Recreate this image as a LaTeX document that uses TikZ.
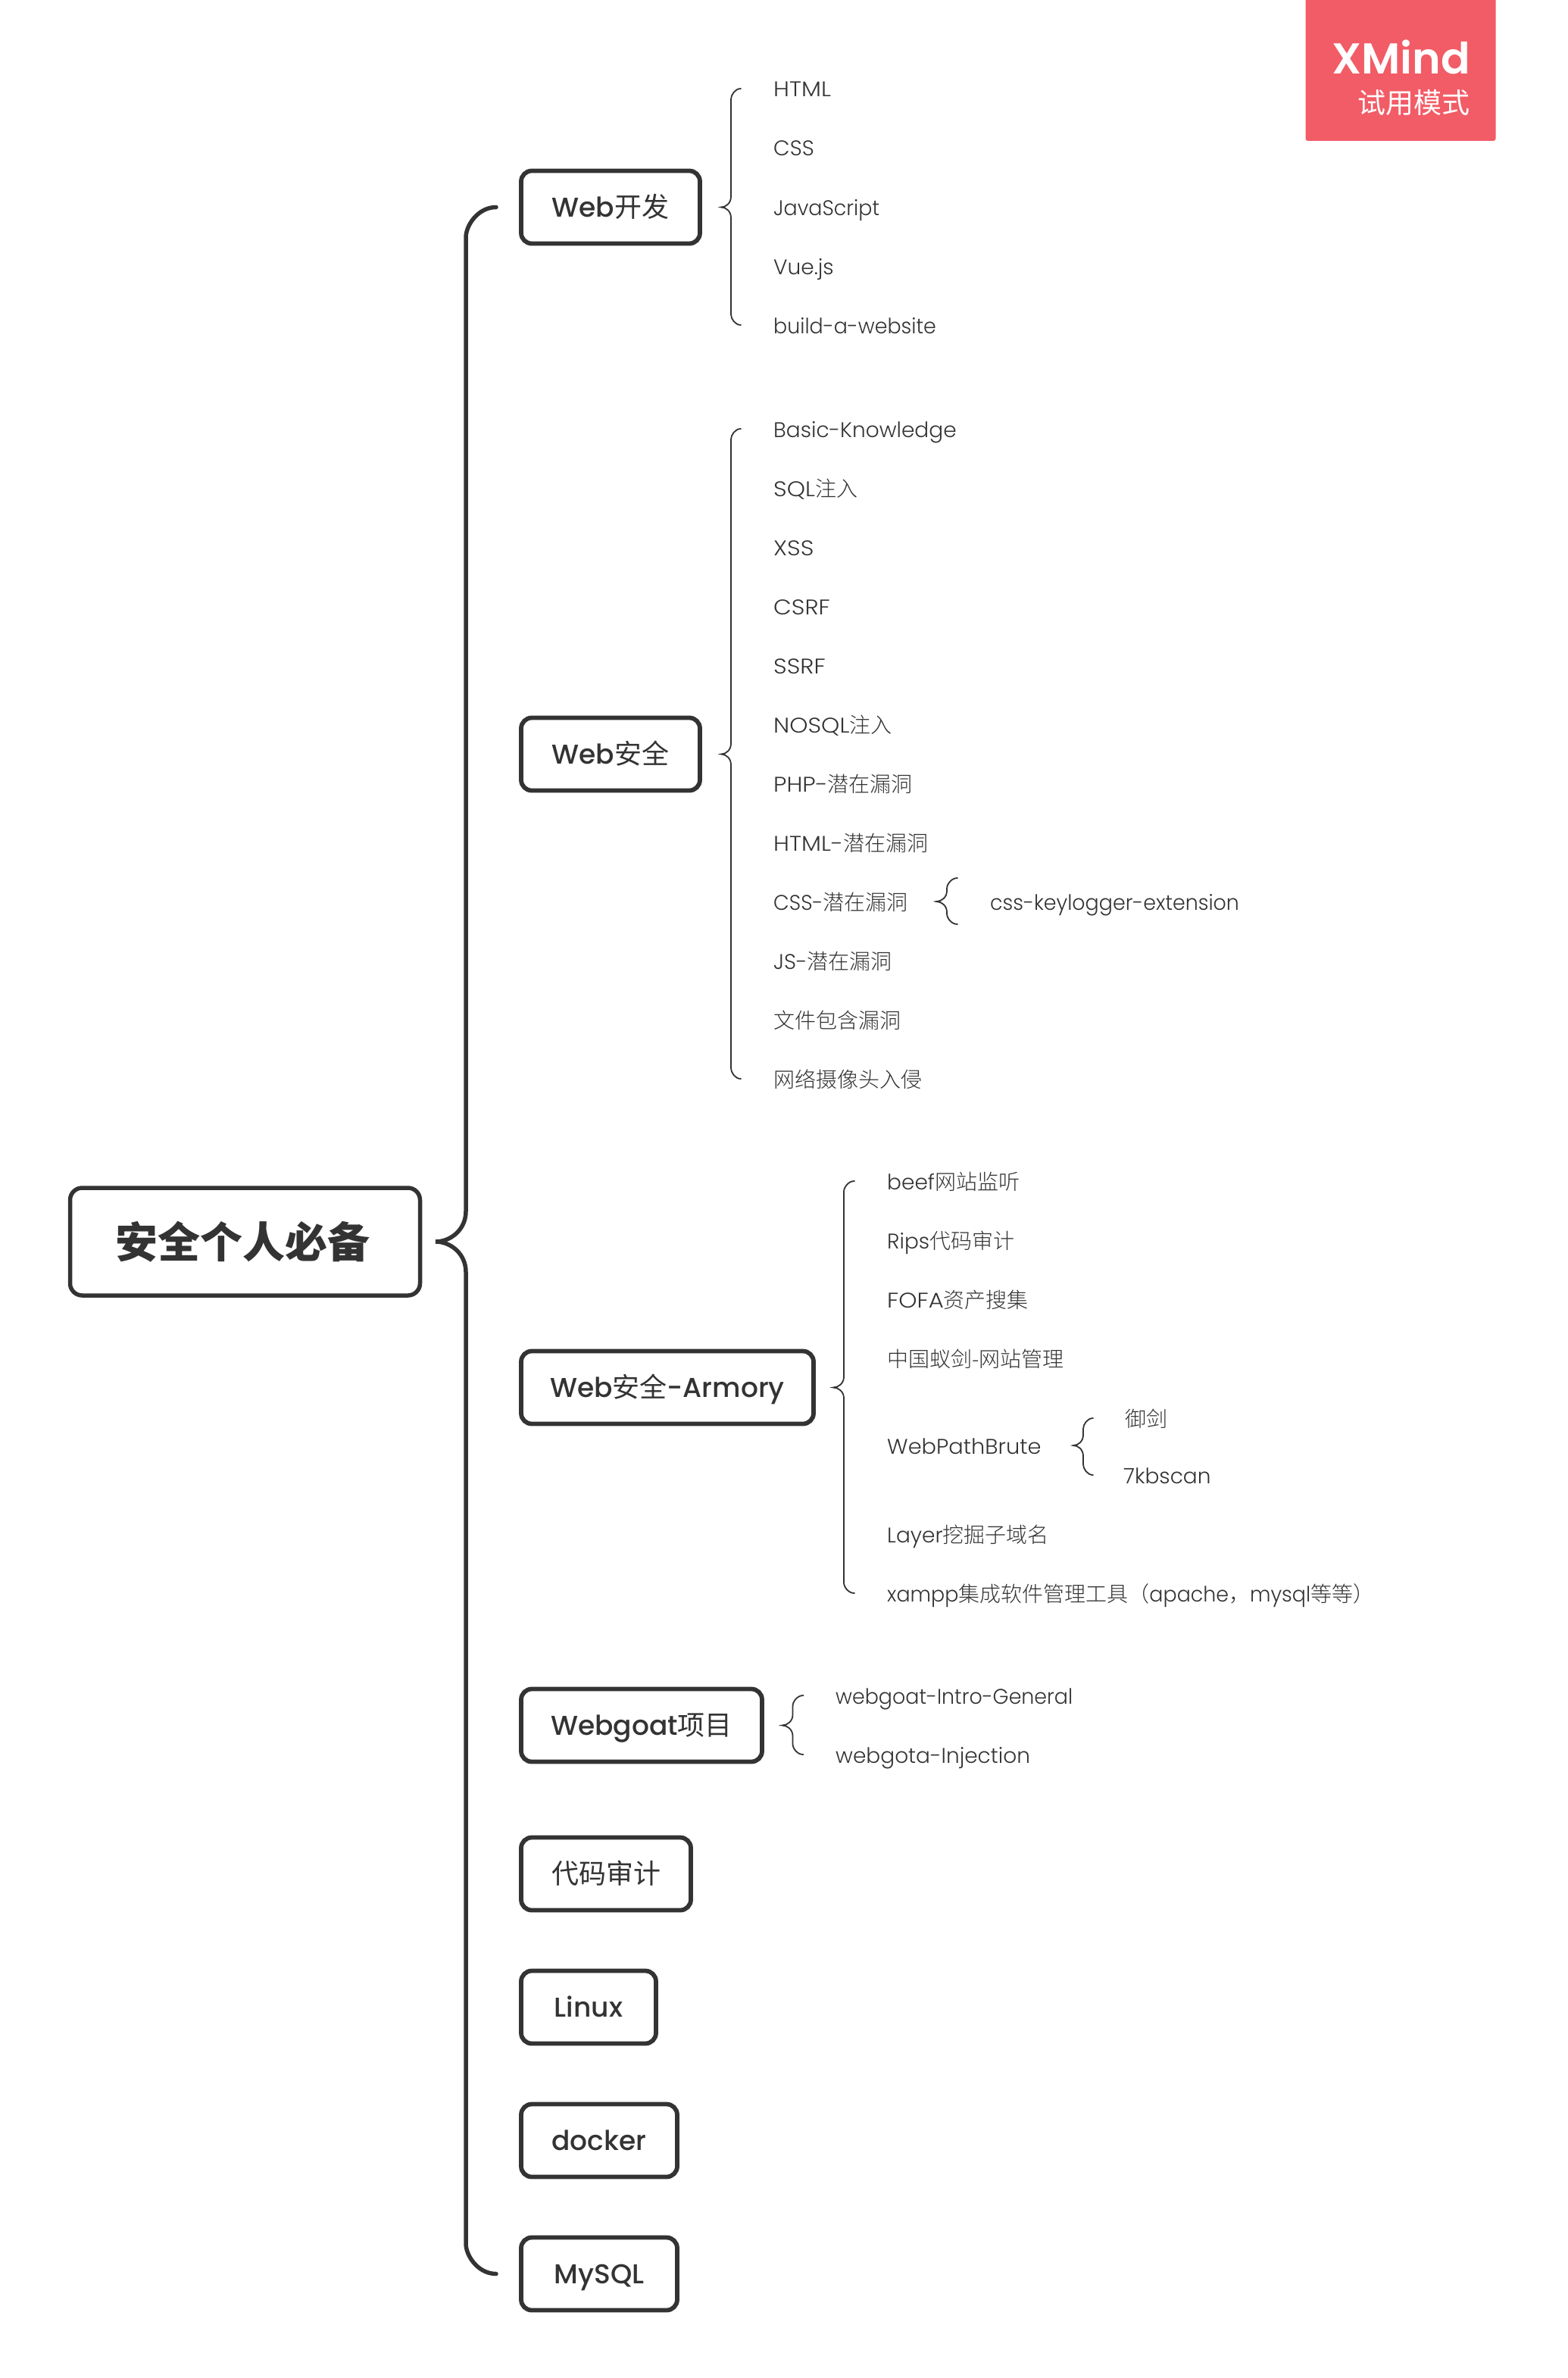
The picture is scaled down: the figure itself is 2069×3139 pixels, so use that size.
\documentclass[tikz,border=0pt]{standalone}
\usepackage{fontspec}
\usetikzlibrary{calc}
\setmainfont{Poppins}
\newfontfamily\lt{Poppins Light}
\newfontfamily\lc[FakeStretch=1.1]{Poppins Light}
\newfontfamily\lw[FakeStretch=1.03]{Poppins Light}
\newfontfamily\ls[FakeStretch=0.96]{Poppins Light}
\newfontfamily\md{Poppins Medium}
\newfontfamily\sbf{Poppins SemiBold}
\newfontfamily\cj{Noto Sans CJK SC}
\newfontfamily\cjl{Noto Sans CJK SC Light}
\definecolor{ink}{HTML}{333333}
\definecolor{wm}{HTML}{F25C66}
\tikzset{
  x=1pt,y=-1pt,
  item/.style={anchor=west,inner sep=0pt,text=ink,text height=29pt,text depth=7pt,font=\fontsize{28}{34}\selectfont\lt},
  topic/.style={draw=ink,line width=5.8pt,rounded corners=14pt,fill=white,text=ink,minimum height=96pt,inner sep=0pt,text height=36pt,text depth=10pt,font=\fontsize{36}{44}\selectfont\md},
  rootbox/.style={draw=ink,line width=5.5pt,rounded corners=16pt,fill=white,text=ink,minimum height=142pt,minimum width=462pt,inner sep=0pt,font=\fontsize{56}{66}\selectfont\bfseries\cj},
  heavy/.style={draw=ink,line width=5.5pt,line cap=round},
  fine/.style={draw=ink,line width=1.8pt,line cap=round}
}
\newcommand{\bracketc}[7]{%
  \coordinate (sx) at (#5,0);
  \coordinate (ba) at (sx |- #3);
  \coordinate (bb) at (sx |- #2);
  \coordinate (bc) at (sx |- #4);
  \draw[#1] ($(ba)+(#6,0)$) .. controls ($(ba)+(#6*0.4,0)$) and ($(ba)+(0,#7*0.6)$) .. ($(ba)+(0,#7)$)
    -- ($(bb)+(0,-#7)$) .. controls ($(bb)+(0,-#7*0.4)$) and ($(bb)+(-#6*0.5,0)$) .. ($(bb)+(-#6,0)$)
    .. controls ($(bb)+(-#6*0.5,0)$) and ($(bb)+(0,#7*0.4)$) .. ($(bb)+(0,#7)$)
    -- ($(bc)+(0,-#7)$) .. controls ($(bc)+(0,-#7*0.6)$) and ($(bc)+(#6*0.4,0)$) .. ($(bc)+(#6,0)$);
}
\begin{document}
\begin{tikzpicture}
\useasboundingbox (0,0) rectangle (2069,3139);
% watermark
\node[draw=none,fill=wm,rounded corners=3pt,minimum width=251pt,minimum height=190pt,inner sep=0pt] (wmbox) at (1849,91) {};
\fill[white] (1700,-6) rectangle (2000,0);
\node[anchor=base east,inner sep=0pt,text=white,font=\fontsize{57}{66}\selectfont\sbf] (wmt) at (1941,98) {XMind};
\node[anchor=base east,inner sep=0pt,text=white,font=\fontsize{37}{44}\selectfont\cj] (wms) at (1941,150) {试用模式};
% root
\node[rootbox] (root) at (323.5,1639) {安全个人必备\kern6pt};
% topics
\node[topic,minimum width=236pt] (t1) at (806,273.5) {Web{\cj 开发}};
\node[topic,minimum width=236pt] (t2) at (806,995.5) {Web{\cj 安全}};
\node[topic,minimum width=386pt] (t3) at (881,1831.5) {Web{\cj 安全}-Armory};
\node[topic,minimum width=318pt] (t4) at (847,2277.5) {Webgoat{\cj 项目}};
\node[topic,minimum width=224pt] (t5) at (800,2473.5) {\cj 代码审计};
\node[topic,minimum width=178pt] (t6) at (777,2649.5) {Linux};
\node[topic,minimum width=206pt] (t7) at (791,2825.5) {docker};
\node[topic,minimum width=206pt] (t8) at (791,3001.5) {MySQL};
% Web dev items
\node[item] (a1) at (1021,117) {\lc HTML};
\node[item] (a2) at (1021,195) {CSS};
\node[item] (a3) at (1021,273) {\ls JavaScript};
\node[item] (a4) at (1021,351) {Vue.js};
\node[item] (a5) at (1021,429) {\ls build-a-website};
% Web security items
\node[item] (b1) at (1021,566) {Basic-Knowledge};
\node[item] (b2) at (1021,644) {\lc SQL{\cjl 注入}};
\node[item] (b3) at (1021,722) {\lc XSS};
\node[item] (b4) at (1021,800) {\lc CSRF};
\node[item] (b5) at (1021,878) {\lc SSRF};
\node[item] (b6) at (1021,956) {\lc NOSQL{\cjl 注入}};
\node[item] (b7) at (1021,1034) {\lc PHP-{\cjl 潜在漏洞}};
\node[item] (b8) at (1021,1112) {\lc HTML-{\cjl 潜在漏洞}};
\node[item] (b9) at (1021,1190) {\ls CSS-{\cjl 潜在漏洞}};
\node[item] (b10) at (1021,1268) {JS-{\cjl 潜在漏洞}};
\node[item] (b11) at (1021,1346) {\cjl 文件包含漏洞};
\node[item] (b12) at (1021,1424) {\cjl 网络摄像头入侵};
\node[item] (b9a) at (1307,1190) {\ls css-keylogger-extension};
\coordinate (b9t) at (1307,1159);
\coordinate (b9b) at (1307,1220);
% Armory items
\node[item] (c1) at (1171,1559) {beef{\cjl 网站监听}};
\node[item] (c2) at (1171,1637) {Rips{\cjl 代码审计}};
\node[item] (c3) at (1171,1715) {\lc FOFA{\cjl 资产搜集}};
\node[item] (c4) at (1171,1793) {\cjl 中国蚁剑-网站管理};
\node[item] (c5) at (1171,1908) {\lw WebPathBrute};
\node[item] (c6) at (1171,2025) {Layer{\cjl 挖掘子域名}};
\node[item] (c7) at (1171,2103) {{\ls xampp}{\cjl 集成软件管理工具（}{\ls apache}{\cjl ，}{\ls mysql}{\cjl 等等）}};
\node[item] (c5a) at (1485,1872) {\cjl 御剑};
\node[item] (c5b) at (1483,1947) {7kbscan};
% Webgoat items
\node[item] (d1) at (1103,2238) {\ls webgoat-Intro-General};
\node[item] (d2) at (1103,2316) {webgota-Injection};
% connectors
\bracketc{heavy}{root}{t1}{t8}{615}{40}{40}
\bracketc{fine}{t1}{a1}{a5}{965}{13}{14}
\bracketc{fine}{t2}{b1}{b12}{965}{13}{14}
\bracketc{fine}{b9}{b9t}{b9b}{1250}{14}{14}
\bracketc{fine}{t3}{c1}{c7}{1114}{14}{14}
\bracketc{fine}{c5}{c5a}{c5b}{1430}{13}{14}
\bracketc{fine}{t4}{d1}{d2}{1046.5}{14}{14}
\end{tikzpicture}
\end{document}
